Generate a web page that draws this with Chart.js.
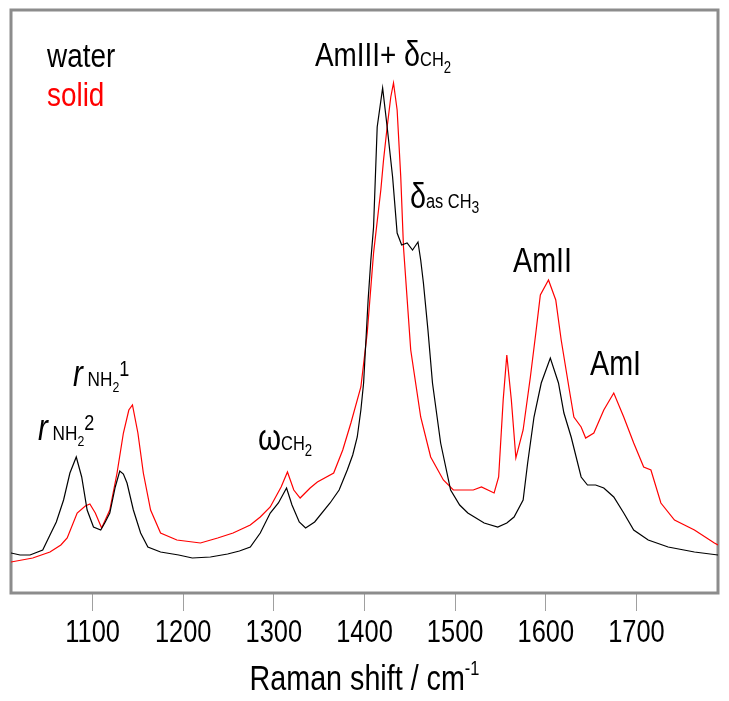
<!DOCTYPE html>
<html><head><meta charset="utf-8">
<script src="https://cdn.jsdelivr.net/npm/chart.js@4.4.0/dist/chart.umd.min.js"></script>
<style>html,body{margin:0;padding:0;background:#fff;overflow:hidden}#wrap{width:729px;height:701px}</style>
</head><body><div id="wrap"><canvas id="c" width="729" height="701"></canvas></div>
<script>
const FONT = '"Liberation Sans", Arial, sans-serif';
const SQUEEZE = 0.82;

const xTickValues = [1100, 1200, 1300, 1400, 1500, 1600, 1700];
const seriesNames = ['water', 'solid'];
const seriesColors = ['#000000', '#ff0000'];

const waterShift = [1010,1020,1031,1045,1053,1060,1068,1075,1082,1088,1094,1101,1109,1114,1119,1125,1130,1134,1138,1145,1153,1161,1175,1195,1210,1230,1249,1262,1274,1285,1296,1305,1314,1320,1328,1335,1345,1362,1372,1381,1387,1392,1396,1399,1404,1407,1410,1414,1420,1425,1431,1436,1441,1447,1453,1459,1462,1465,1470,1475,1484,1495,1505,1514,1532,1547,1557,1565,1575,1580,1587,1595,1605,1614,1620,1628,1639,1646,1655,1664,1675,1686,1697,1713,1735,1764,1790];
const waterIntensity = [40,38,38,43,58,71,93,120,136,116,83,66,63,71,80,106,122,119,110,83,60,46,41,38,35,36,39,42,46,60,80,90,105,88,71,65,71,90,103,123,138,156,183,210,293,333,366,466,505,466,416,360,348,350,343,351,333,310,263,210,150,103,88,80,70,66,70,76,93,130,176,210,235,210,180,156,116,108,108,105,96,80,63,53,46,41,38];

const solidShift = [1010,1034,1053,1065,1072,1083,1092,1097,1103,1110,1119,1127,1134,1140,1144,1150,1156,1164,1175,1193,1219,1238,1255,1274,1285,1296,1308,1315,1322,1329,1340,1348,1366,1376,1385,1396,1403,1410,1418,1421,1425,1429,1432,1436,1440,1443,1451,1462,1473,1487,1498,1520,1529,1543,1548,1553,1557,1562,1567,1575,1583,1589,1594,1603,1611,1617,1626,1631,1639,1644,1653,1664,1675,1686,1697,1708,1716,1727,1742,1764,1786,1790];
const solidIntensity = [31,35,41,48,55,80,87,89,80,65,83,120,160,183,188,160,120,83,60,53,50,55,60,68,76,86,106,121,103,95,105,111,120,143,170,206,260,340,403,433,466,496,510,483,416,346,243,176,136,113,103,103,106,100,116,193,238,193,135,163,216,260,298,313,293,253,203,176,166,155,160,183,200,176,150,126,123,90,73,63,50,48];

const annotations = [
  {x:47, y:67, runs:[{t:'water', s:34, c:'#000'}]},
  {x:47, y:106, runs:[{t:'solid', s:34, c:'#f00'}]},
  {x:315, y:66, runs:[{t:'AmIII+ ', s:34},{t:'δ', s:35},{t:'CH', s:20},{t:'2', s:16, dy:7}]},
  {x:410, y:208, runs:[{t:'δ', s:35},{t:'as CH', s:20},{t:'3', s:17, dy:5}]},
  {x:513, y:272, runs:[{t:'AmII', s:35}]},
  {x:590, y:375, runs:[{t:'AmI', s:35}]},
  {x:258, y:450, runs:[{t:'ω', s:36},{t:'CH', s:20},{t:'2', s:16, dy:6}]},
  {x:38, y:440, runs:[{t:'r', s:36, it:true},{t:' NH', s:21},{t:'2', s:15, dy:6},{t:'2', s:22, dy:-10}]},
  {x:73, y:386, runs:[{t:'r', s:36, it:true},{t:' NH', s:21},{t:'2', s:15, dy:6},{t:'1', s:22, dy:-10}]}
];

function runWidth(ctx, r) {
  ctx.font = (r.it ? 'italic ' : '') + r.s + 'px ' + FONT;
  return ctx.measureText(r.t).width * SQUEEZE;
}
function drawRuns(ctx, x, y, runs) {
  let cx = x;
  for (const r of runs) {
    const w = runWidth(ctx, r);
    ctx.save();
    ctx.fillStyle = r.c || '#000';
    ctx.textBaseline = 'alphabetic';
    ctx.textAlign = 'left';
    ctx.translate(cx, y + (r.dy || 0));
    ctx.scale(SQUEEZE, 1);
    ctx.fillText(r.t, 0, 0);
    ctx.restore();
    cx += w;
  }
  return cx - x;
}
function runsWidth(ctx, runs) { return runs.reduce((s, r) => s + runWidth(ctx, r), 0); }

const framePlugin = {
  id: 'frame',
  beforeDatasetsDraw(chart) {
    const {ctx, chartArea:a} = chart;
    ctx.save();
    ctx.strokeStyle = '#8c8c8c';
    ctx.lineWidth = 3;
    ctx.strokeRect(a.left, a.top, a.right - a.left, a.bottom - a.top);
    ctx.restore();
  },
  afterDraw(chart) {
    const {ctx, chartArea:a} = chart;
    const xs = chart.scales.x;
    // tick labels (from the library's ticks and scale)
    for (const tk of xs.ticks) {
      const runs = [{t: String(tk.value), s: 31}];
      const px = xs.getPixelForValue(tk.value);
      drawRuns(ctx, px - runsWidth(ctx, runs) / 2, 642, runs);
    }
    for (const an of annotations) drawRuns(ctx, an.x, an.y, an.runs);
    const title = [{t:'Raman shift / cm', s:35},{t:'-1', s:20, dy:-15}];
    const cx = (a.left + a.right) / 2;
    drawRuns(ctx, cx - runsWidth(ctx, title) / 2, 690, title);
  }
};

const ctx = document.getElementById('c').getContext('2d');
new Chart(ctx, {
  type: 'line',
  data: {
    datasets: [
      {label: seriesNames[0], data: waterShift.map((x,i)=>({x, y: waterIntensity[i]})), borderColor: seriesColors[0], borderWidth: 1.2, pointRadius: 0, tension: 0, fill: false},
      {label: seriesNames[1], data: solidShift.map((x,i)=>({x, y: solidIntensity[i]})), borderColor: seriesColors[1], borderWidth: 1.2, pointRadius: 0, tension: 0, fill: false}
    ]
  },
  options: {
    responsive: false, animation: false, devicePixelRatio: 1,
    layout: {padding: {left: 11, right: 11, top: 10, bottom: 0}},
    plugins: {legend: {display: false}, tooltip: {enabled: false}, title: {display: false}},
    scales: {
      x: {
        type: 'linear', min: 1010, max: 1790,
        afterBuildTicks: s => { s.ticks = xTickValues.map(v => ({value: v})); },
        afterFit: s => { s.height = 108; },
        ticks: {display: false, autoSkip: false},
        grid: {drawOnChartArea: false, drawTicks: true, tickLength: 18, color: '#a0a0a0', lineWidth: 1},
        border: {display: false}
      },
      y: {display: false, min: 0, max: 583}
    }
  },
  plugins: [framePlugin]
});
</script>
</body></html>
